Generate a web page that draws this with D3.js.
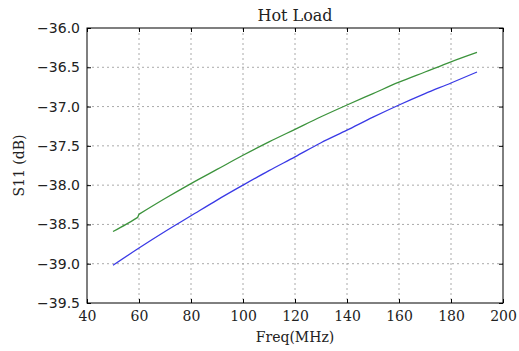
<!DOCTYPE html>
<html><head><meta charset="utf-8">
<script src="https://cdn.jsdelivr.net/npm/d3@7"></script>
<style>body{margin:0;background:#fff}</style>
</head><body><svg id="c" width="519" height="351"></svg>
<script>
const title = "Hot Load";
const xLabel = "Freq(MHz)";
const yLabel = "S11 (dB)";
const xTicks = [40, 60, 80, 100, 120, 140, 160, 180, 200];
const yTicks = [-36.0, -36.5, -37.0, -37.5, -38.0, -38.5, -39.0, -39.5];
const blueFreq = [50, 60, 70, 80, 90, 100, 110, 120, 130, 140, 150, 160, 170, 180, 190];
const blueS11 = [-39.02, -38.80, -38.59, -38.39, -38.19, -38.00, -37.815, -37.64, -37.46, -37.30, -37.135, -36.98, -36.835, -36.70, -36.56];
// green trace has a small step at 60 MHz
const greenFreqLow = [50, 55, 59.5];
const greenS11Low = [-38.59, -38.50, -38.41];
const greenFreqHigh = [60, 70, 80, 90, 100, 110, 120, 130, 140, 150, 160, 170, 180, 190];
const greenS11High = [-38.37, -38.17, -37.98, -37.80, -37.62, -37.45, -37.29, -37.13, -36.98, -36.835, -36.69, -36.56, -36.43, -36.31];

const svg = d3.select("#c");
const L = 87, R = 503, T = 28, B = 303;
const x = d3.scaleLinear().domain([40, 200]).range([L, R]);
const y = d3.scaleLinear().domain([-39.5, -36.0]).range([B, T]);

// grid
const g = svg.append("g");
g.selectAll("line.gx").data(xTicks.slice(1, -1)).join("line")
  .attr("x1", d => x(d)).attr("x2", d => x(d)).attr("y1", T).attr("y2", B)
  .attr("stroke", "#aaa").attr("stroke-width", 1).attr("stroke-dasharray", "2,3");
g.selectAll("line.gy").data(yTicks.slice(1, -1)).join("line")
  .attr("y1", d => y(d)).attr("y2", d => y(d)).attr("x1", L).attr("x2", R)
  .attr("stroke", "#aaa").attr("stroke-width", 1).attr("stroke-dasharray", "2,3");

// lines
const line = d3.line().x(d => x(d[0])).y(d => y(d[1])).curve(d3.curveMonotoneX);
svg.append("path").datum(blueFreq.map((f, i) => [f, blueS11[i]]))
  .attr("d", line).attr("fill", "none").attr("stroke", "#3a3ae6").attr("stroke-width", 1.3);
const gLow = line(greenFreqLow.map((f, i) => [f, greenS11Low[i]]));
const gHigh = line(greenFreqHigh.map((f, i) => [f, greenS11High[i]]));
svg.append("path").attr("d", gLow + "L" + gHigh.slice(1))
  .attr("fill", "none").attr("stroke", "#3c933c").attr("stroke-width", 1.3);

// axes
const fmtY = d => d3.format(".1f")(d).replace("-", "\u2212");
const xb = svg.append("g").attr("transform", `translate(0,${B})`)
  .call(d3.axisBottom(x).tickValues(xTicks).tickSize(-4).tickPadding(8));
const xt = svg.append("g").attr("transform", `translate(0,${T})`)
  .call(d3.axisTop(x).tickValues(xTicks).tickSize(-4).tickFormat(""));
const yl = svg.append("g").attr("transform", `translate(${L},0)`)
  .call(d3.axisLeft(y).tickValues(yTicks).tickSize(-4).tickPadding(7).tickFormat(fmtY));
const yr = svg.append("g").attr("transform", `translate(${R},0)`)
  .call(d3.axisRight(y).tickValues(yTicks).tickSize(-4).tickFormat(""));
[xb, xt, yl, yr].forEach(a => {
  a.select(".domain").remove();
  a.selectAll(".tick line").attr("stroke", "#000");
});
xb.selectAll("text").attr("font-family", "DejaVu Serif").attr("font-size", 14).attr("fill", "#222");
yl.selectAll("text").attr("font-family", "DejaVu Sans").attr("font-size", 14).attr("fill", "#222");

svg.append("rect").attr("x", L).attr("y", T).attr("width", R - L).attr("height", B - T)
  .attr("fill", "none").attr("stroke", "#000").attr("stroke-width", 1);

svg.append("text").attr("x", (L + R) / 2).attr("y", 21).attr("text-anchor", "middle")
  .attr("font-family", "DejaVu Serif").attr("font-size", 16).attr("fill", "#222").text(title);
svg.append("text").attr("x", (L + R) / 2).attr("y", 342).attr("text-anchor", "middle")
  .attr("font-family", "DejaVu Serif").attr("font-size", 14).attr("fill", "#222").text(xLabel);
svg.append("text").attr("transform", `translate(24,${(T + B) / 2}) rotate(-90)`).attr("text-anchor", "middle")
  .attr("font-family", "DejaVu Serif").attr("font-size", 14).attr("fill", "#222").text(yLabel);
</script></body></html>
